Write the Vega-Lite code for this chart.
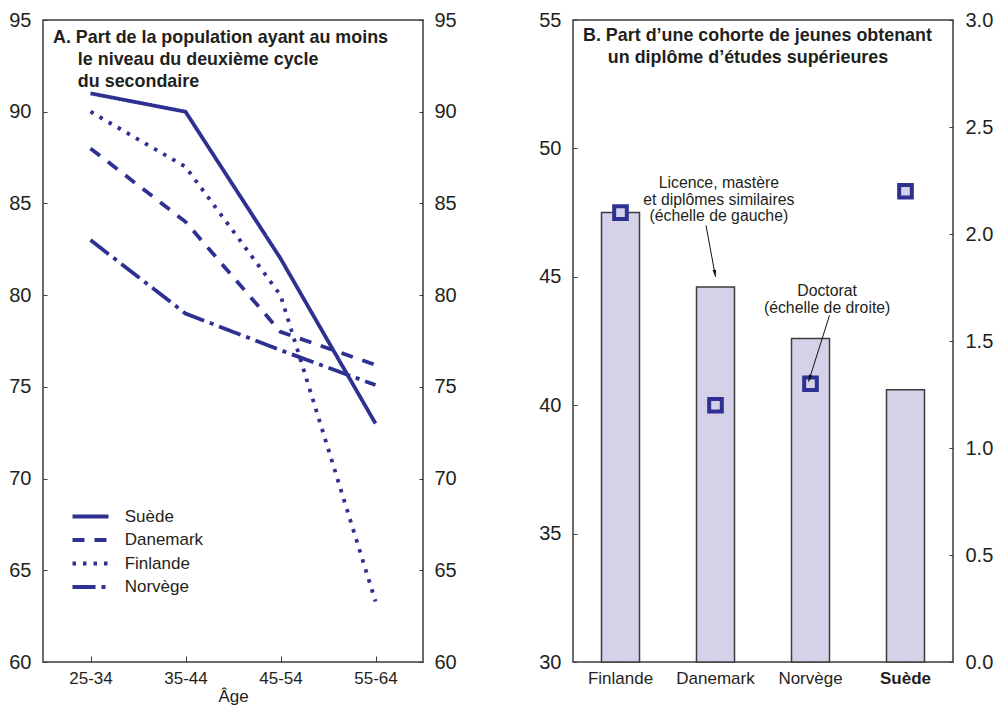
{
  "$schema": "https://vega.github.io/schema/vega-lite/v6.json",
  "background": "white",
  "padding": {"left": 8, "top": 9, "right": 0, "bottom": 0},
  "spacing": 81,
  "hconcat": [
    {
      "width": 380,
      "height": 642,
      "title": {
        "text": [
          "A. Part de la population ayant au moins",
          "\u200b\u00a0\u00a0\u00a0\u00a0\u00a0le niveau du deuxième cycle",
          "\u200b\u00a0\u00a0\u00a0\u00a0\u00a0du secondaire"
        ],
        "anchor": "start",
        "frame": "group",
        "dx": 10,
        "offset": -80.7,
        "baseline": "top",
        "fontSize": 17.9,
        "fontWeight": "bold",
        "lineHeight": 21.7,
        "color": "#231f20"
      },
      "data": {
        "values": [
          {"age": "25-34", "pays": "Suède", "valeur": 91},
          {"age": "35-44", "pays": "Suède", "valeur": 90},
          {"age": "45-54", "pays": "Suède", "valeur": 82},
          {"age": "55-64", "pays": "Suède", "valeur": 73},
          {"age": "25-34", "pays": "Danemark", "valeur": 88},
          {"age": "35-44", "pays": "Danemark", "valeur": 84},
          {"age": "45-54", "pays": "Danemark", "valeur": 78},
          {"age": "55-64", "pays": "Danemark", "valeur": 76.2},
          {"age": "25-34", "pays": "Finlande", "valeur": 90},
          {"age": "35-44", "pays": "Finlande", "valeur": 87},
          {"age": "45-54", "pays": "Finlande", "valeur": 80},
          {"age": "55-64", "pays": "Finlande", "valeur": 63.3},
          {"age": "25-34", "pays": "Norvège", "valeur": 83},
          {"age": "35-44", "pays": "Norvège", "valeur": 79},
          {"age": "45-54", "pays": "Norvège", "valeur": 77},
          {"age": "55-64", "pays": "Norvège", "valeur": 75.1}
        ]
      },
      "layer": [
        {
          "mark": {"type": "line", "color": "#2e3192", "strokeWidth": 3.8},
          "encoding": {
            "x": {
              "field": "age",
              "type": "ordinal",
              "scale": {"type": "point", "padding": 0.5},
              "axis": {
                "title": "Âge",
                "labelAngle": 0,
                "labelFontSize": 17,
                "titleFontSize": 17,
                "tickSize": -6,
                "labelPadding": 14,
                "titlePadding": 2
              }
            },
            "y": {
              "field": "valeur",
              "type": "quantitative",
              "scale": {"domain": [60, 95], "zero": false, "nice": false},
              "axis": {
                "title": null,
                "values": [60, 65, 70, 75, 80, 85, 90, 95],
                "labelFontSize": 20,
                "tickSize": -4,
                "labelPadding": 16
              }
            },
            "strokeDash": {
              "field": "pays",
              "type": "nominal",
              "scale": {
                "domain": ["Suède", "Danemark", "Finlande", "Norvège"],
                "range": [[1, 0], [12, 10], [3.5, 7], [23, 6, 4, 6]]
              },
              "legend": {
                "title": null,
                "orient": "none",
                "legendX": 27,
                "legendY": 488,
                "symbolType": "M-1,0H5",
                "symbolSize": 144,
                "symbolStrokeWidth": 4,
                "symbolStrokeColor": "#2e3192",
                "symbolFillColor": "transparent",
                "labelFontSize": 17,
                "labelColor": "#231f20",
                "labelOffset": 37.7,
                "rowPadding": 5.5
              }
            }
          }
        },
        {
          "mark": {"type": "point", "opacity": 0},
          "encoding": {
            "y": {
              "field": "valeur",
              "type": "quantitative",
              "axis": {
                "orient": "right",
                "title": null,
                "values": [60, 65, 70, 75, 80, 85, 90, 95],
                "labelFontSize": 20,
                "tickSize": -4,
                "labelPadding": 15
              }
            }
          }
        }
      ],
      "resolve": {"axis": {"y": "independent"}}
    },
    {
      "width": 380,
      "height": 642,
      "title": {
        "text": [
          "B. Part d’une cohorte de jeunes obtenant",
          "\u200b\u00a0\u00a0\u00a0\u00a0\u00a0un diplôme d’études supérieures"
        ],
        "anchor": "start",
        "frame": "group",
        "dx": 10,
        "offset": -56.7,
        "baseline": "top",
        "fontSize": 17.9,
        "fontWeight": "bold",
        "lineHeight": 21.7,
        "color": "#231f20"
      },
      "data": {
        "values": [
          {"pays": "Finlande", "licence": 47.5, "doctorat": 2.1},
          {"pays": "Danemark", "licence": 44.6, "doctorat": 1.2},
          {"pays": "Norvège", "licence": 42.6, "doctorat": 1.3},
          {"pays": "Suède", "licence": 40.6, "doctorat": 2.2}
        ]
      },
      "layer": [
        {
          "mark": {"type": "bar", "fill": "#d5d1e8", "stroke": "#3c3c3c", "strokeWidth": 1.5},
          "encoding": {
            "x": {
              "field": "pays",
              "type": "nominal",
              "sort": null,
              "scale": {"paddingInner": 0.6, "paddingOuter": 0.3},
              "axis": {
                "title": null,
                "labelAngle": 0,
                "labelFontSize": 17,
                "tickSize": -6,
                "labelPadding": 14,
                "labelFontWeight": {
                  "condition": {"test": "datum.value === 'Suède'", "value": "bold"},
                  "value": "normal"
                }
              }
            },
            "y": {
              "field": "licence",
              "type": "quantitative",
              "scale": {"domain": [30, 55], "zero": false, "nice": false},
              "axis": {
                "title": null,
                "values": [30, 35, 40, 45, 50, 55],
                "labelFontSize": 20,
                "tickSize": -4,
                "labelPadding": 16
              }
            },
            "y2": {"datum": 30}
          }
        },
        {
          "mark": {
            "type": "point",
            "shape": "square",
            "filled": true,
            "fill": "#d5d1e8",
            "stroke": "#2e3192",
            "strokeWidth": 4,
            "size": 160,
            "opacity": 1
          },
          "encoding": {
            "x": {
              "field": "pays",
              "type": "nominal",
              "sort": null,
              "scale": {"type": "band", "paddingInner": 0.6, "paddingOuter": 0.3},
              "axis": null
            },
            "y": {
              "field": "doctorat",
              "type": "quantitative",
              "scale": {"domain": [0, 3], "zero": false, "nice": false},
              "axis": {
                "orient": "right",
                "title": null,
                "values": [0, 0.5, 1, 1.5, 2, 2.5, 3],
                "format": ".1f",
                "labelFontSize": 20,
                "tickSize": -4,
                "labelPadding": 16
              }
            }
          }
        },
        {
          "data": {
            "values": [
              {"texte": "Licence, mastère\net diplômes similaires\n(échelle de gauche)", "tx": 1.535, "ty": 48.65, "x1": 1.4, "y1": 47, "x2": 1.5, "y2": 45},
              {"texte": "Doctorat\n(échelle de droite)", "tx": 2.675, "ty": 44.43, "x1": 2.7, "y1": 43.5, "x2": 2.48, "y2": 40.92}
            ]
          },
          "layer": [
            {
              "mark": {
                "type": "text",
                "lineBreak": "\n",
                "align": "center",
                "baseline": "middle",
                "fontSize": 15.8,
                "lineHeight": 16.6,
                "color": "#231f20"
              },
              "encoding": {
                "x": {"field": "tx", "type": "quantitative", "scale": {"domain": [0, 4], "zero": false, "nice": false}, "axis": null},
                "y": {"field": "ty", "type": "quantitative", "scale": {"domain": [30, 55], "zero": false, "nice": false}, "axis": null},
                "text": {"field": "texte", "type": "nominal"}
              }
            },
            {
              "mark": {"type": "rule", "color": "#111111", "strokeWidth": 1},
              "encoding": {
                "x": {"field": "x1", "type": "quantitative"},
                "y": {"field": "y1", "type": "quantitative"},
                "x2": {"field": "x2"},
                "y2": {"field": "y2"}
              }
            },
            {
              "mark": {
                "type": "point",
                "shape": "M0,0L-0.6,-2.3L0.6,-2.3Z",
                "filled": true,
                "color": "#111111",
                "size": 36,
                "opacity": 1
              },
              "encoding": {
                "x": {"field": "x2", "type": "quantitative"},
                "y": {"field": "y2", "type": "quantitative"},
                "angle": {
                  "condition": {"test": "datum.x1 < datum.x2", "value": 349.7},
                  "value": 17.2
                }
              }
            }
          ]
        }
      ],
      "resolve": {"scale": {"x": "independent", "y": "independent"}}
    }
  ],
  "config": {
    "font": "Liberation Sans",
    "view": {"stroke": "#3c3c3c", "strokeWidth": 1.5},
    "axis": {
      "domain": false,
      "grid": false,
      "tickColor": "#3c3c3c",
      "tickWidth": 1,
      "labelColor": "#231f20",
      "titleColor": "#231f20",
      "titleFontWeight": "normal",
      "labelFont": "Liberation Sans",
      "titleFont": "Liberation Sans"
    }
  }
}
